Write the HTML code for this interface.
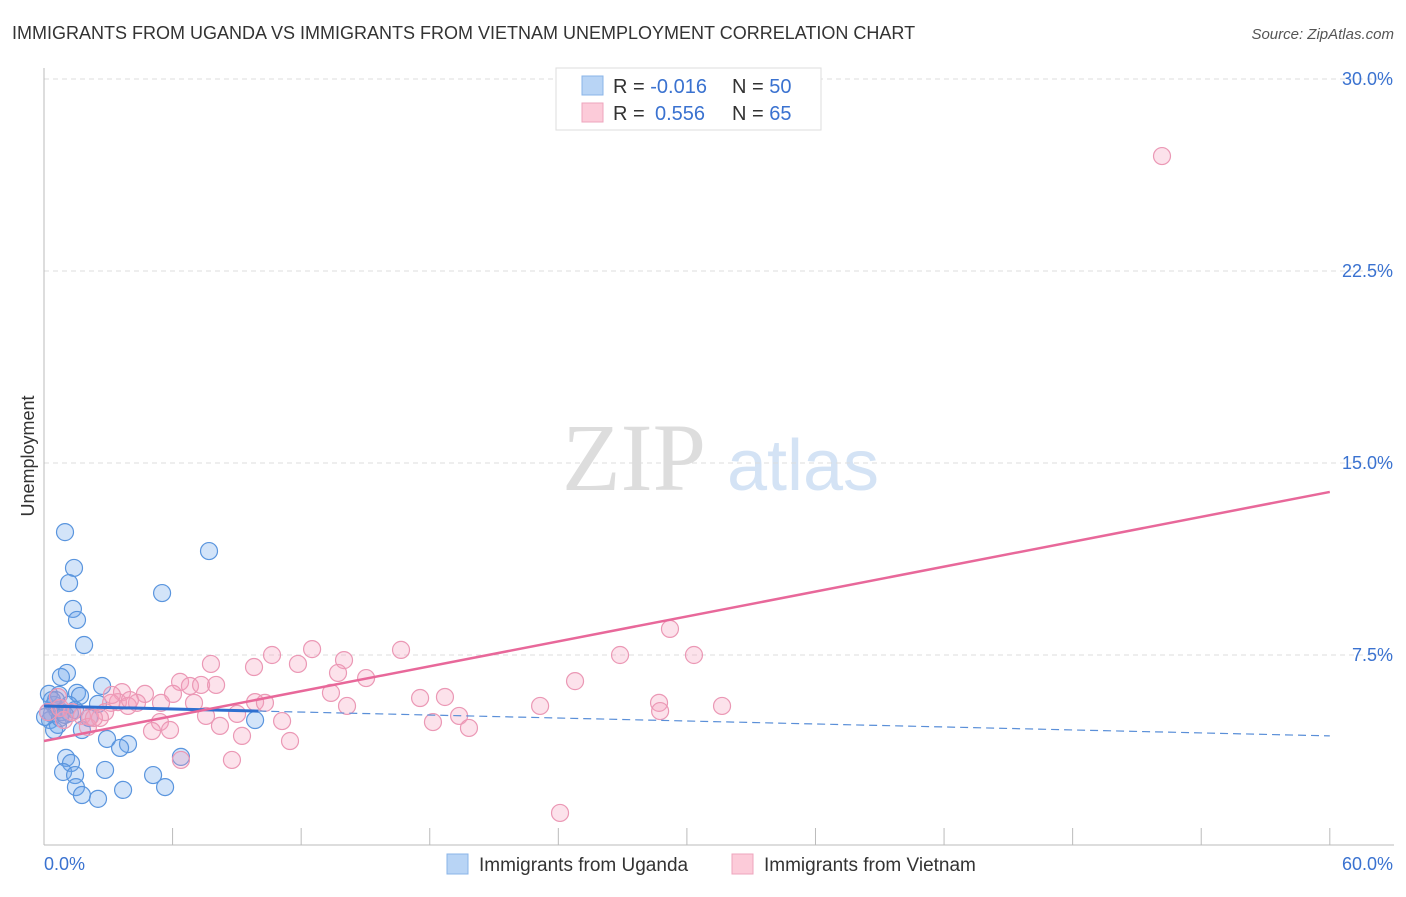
<!DOCTYPE html>
<html><head><meta charset="utf-8"><style>
body{margin:0;background:#fff;font-family:"Liberation Sans",sans-serif}
#c{position:relative;width:1406px;height:892px}
</style></head><body>
<div id="c">
<svg id="s" width="1406" height="892">
<text x="12" y="39" font-size="18" fill="#333">IMMIGRANTS FROM UGANDA VS IMMIGRANTS FROM VIETNAM UNEMPLOYMENT CORRELATION CHART</text>
<text x="1394" y="39" font-size="15" fill="#555" font-style="italic" text-anchor="end">Source: ZipAtlas.com</text>
<text x="634" y="490" font-size="96" fill="#ddd" font-family="Liberation Serif,serif" text-anchor="middle">ZIP</text>
<text x="803" y="490" font-size="72" fill="#d4e3f5" text-anchor="middle">atlas</text>
<text transform="translate(34,456) rotate(-90)" font-size="18" fill="#333" text-anchor="middle">Unemployment</text>
<g id="grid"></g><g id="pts"></g><g id="lines"></g>
<rect x="556" y="68" width="265" height="62" fill="#fff" stroke="#ddd"/>
<rect x="582" y="76" width="21" height="19" fill="#b8d4f5" stroke="#8ab4e8"/>
<rect x="582" y="103" width="21" height="19" fill="#fccbd9" stroke="#eea4bd"/>
<text x="613" y="93" font-size="20" fill="#333">R = <tspan fill="#3a72d0">-0.016</tspan><tspan x="732">N = </tspan><tspan fill="#3a72d0">50</tspan></text>
<text x="613" y="120" font-size="20" fill="#333">R = <tspan x="655" fill="#3a72d0">0.556</tspan><tspan x="732">N = </tspan><tspan fill="#3a72d0">65</tspan></text>
<rect x="447" y="854" width="21" height="20" fill="#b8d4f5" stroke="#8ab4e8"/>
<text x="479" y="871" font-size="19" fill="#333">Immigrants from Uganda</text>
<rect x="732" y="854" width="21" height="20" fill="#fccbd9" stroke="#eea4bd"/>
<text x="764" y="871" font-size="19" fill="#333">Immigrants from Vietnam</text>
</svg></div>
<script>
const yTicks=[7.5,15,22.5,30];
const yTickLabels=["7.5%","15.0%","22.5%","30.0%"];
const xTicks=[0,6,12,18,24,30,36,42,48,54,60];
const ugX=[0.98,1.40,1.17,1.35,1.54,1.87,7.70,5.51,1.07,0.79,0.23,0.70,1.54,1.68,2.71,2.52,0.61,0.37,0.28,0.65,0.47,1.77,2.94,3.92,3.55,9.85,1.03,1.26,0.89,1.45,2.85,1.49,1.77,2.52,3.69,5.09,5.65,6.39,0.47,0.19,0.84,1.21,0.05,0.56,1.17,0.75,0.37,2.10,1.45,0.98];
const ugY=[12.30,10.90,10.31,9.30,8.87,7.89,11.56,9.92,6.80,6.64,5.98,5.94,6.02,5.90,6.29,5.59,5.35,5.20,4.96,4.77,4.57,4.57,4.22,4.02,3.87,4.96,3.48,3.28,2.93,2.81,3.01,2.34,2.03,1.88,2.23,2.81,2.34,3.52,5.55,5.27,5.27,5.23,5.08,5.74,5.55,5.04,5.74,5.04,5.35,5.16];
const vnX=[52.17,29.21,30.33,26.88,24.78,16.66,14.00,12.51,10.64,11.85,9.80,7.79,13.72,15.03,13.39,14.14,17.55,18.71,23.15,28.70,28.75,31.64,19.37,18.15,19.83,24.08,11.11,11.48,9.85,10.31,9.01,8.21,9.24,8.77,7.56,6.35,6.81,7.33,8.03,6.02,7.00,5.46,4.71,3.64,3.45,4.34,3.92,3.13,2.85,2.15,1.77,1.31,0.65,5.41,5.04,6.39,2.05,2.61,0.93,0.19,5.88,4.01,3.17,2.33,0.75];
const vnY=[26.99,8.52,7.50,7.50,6.48,7.70,7.30,7.73,7.50,7.15,7.03,7.15,6.80,6.60,6.02,5.51,5.82,5.86,5.51,5.63,5.31,5.51,5.12,4.88,4.65,1.33,4.92,4.14,5.66,5.63,5.20,4.73,4.34,3.40,5.12,6.45,6.29,6.33,6.33,5.98,5.63,5.63,5.98,6.05,5.66,5.63,5.51,5.63,5.27,5.08,5.12,5.27,5.86,4.88,4.53,3.40,4.69,5.04,4.96,5.27,4.57,5.74,5.94,5.04,5.43];
const ugTrend=[[0,5.51],[10,5.31],[60,4.34]];
const vnTrend=[[0,4.14],[60,13.87]];
const X=v=>44+v*21.43, Y=v=>847-v*25.6;
const NS='http://www.w3.org/2000/svg';
function mk(p,t,a){const e=document.createElementNS(NS,t);for(const k in a)e.setAttribute(k,a[k]);p.appendChild(e);return e;}
const g=document.getElementById('grid');
yTicks.forEach((t,i)=>{
 const l=mk(g,'line',{x1:44,x2:1394,y1:Y(t),y2:Y(t),stroke:'#ddd','stroke-dasharray':'5,4'});
 
 
 const tx=mk(g,'text',{x:1393,y:Y(t)+6,'font-size':18,fill:'#3a72d0','text-anchor':'end'});tx.textContent=yTickLabels[i];
 
 
});
const ax=mk(g,'line',{x1:44,x2:44,y1:68,y2:845,stroke:'#bbb'});


const bx=mk(g,'line',{x1:44,x2:1394,y1:845,y2:845,stroke:'#bbb'});


xTicks.forEach(t=>{const l=mk(g,'line',{x1:X(t),x2:X(t),y1:828,y2:845,stroke:'#bbb'});
 
 });
const x0=mk(g,'text',{x:44,y:870,'font-size':18,fill:'#3a72d0'});x0.textContent='0.0%';


const x1=mk(g,'text',{x:1393,y:870,'font-size':18,fill:'#3a72d0','text-anchor':'end'});x1.textContent='60.0%';


const P=document.getElementById('pts');
ugX.forEach((v,i)=>{const c=mk(P,'circle',{cx:X(v),cy:Y(ugY[i]),r:8.5,fill:'rgba(110,165,235,0.3)',stroke:'#5a95de','stroke-width':1.2});
 
 });
vnX.forEach((v,i)=>{const c=mk(P,'circle',{cx:X(v),cy:Y(vnY[i]),r:8.5,fill:'rgba(245,160,190,0.3)',stroke:'#eb98b5','stroke-width':1.2});
 
 });
const L=document.getElementById('lines');
const u1=mk(L,'line',{x1:X(ugTrend[0][0]),y1:Y(ugTrend[0][1]),x2:X(ugTrend[1][0]),y2:Y(ugTrend[1][1]),stroke:'#2f6fd0','stroke-width':3});


const u2=mk(L,'line',{x1:X(ugTrend[1][0]),y1:Y(ugTrend[1][1]),x2:X(ugTrend[2][0]),y2:Y(ugTrend[2][1]),stroke:'#5a8fd8','stroke-width':1.2,'stroke-dasharray':'8,5'});


const v1=mk(L,'line',{x1:X(vnTrend[0][0]),y1:Y(vnTrend[0][1]),x2:X(vnTrend[1][0]),y2:Y(vnTrend[1][1]),stroke:'#e8689a','stroke-width':2.5});


</script>
</body></html>
